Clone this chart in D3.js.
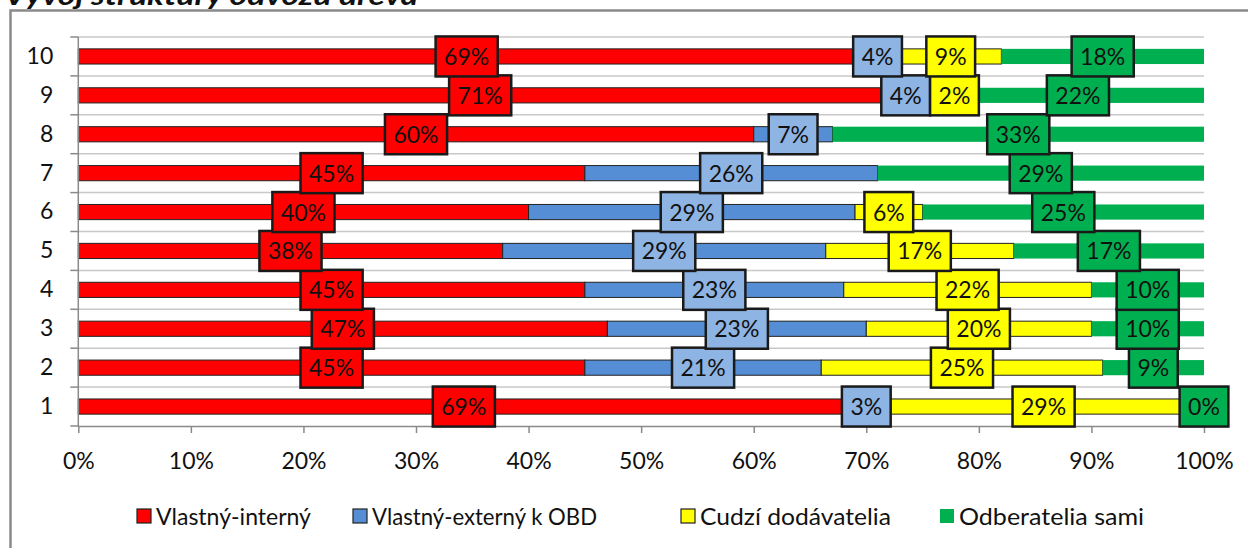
<!DOCTYPE html>
<html>
<head>
<meta charset="utf-8">
<script src="https://cdn.jsdelivr.net/npm/d3@7"></script>
<style>
  html, body { margin: 0; padding: 0; background: #fff; }
  svg { display: block; }
  text { font-family: Lato, "Open Sans", sans-serif; fill: #111; }
</style>
</head>
<body>
<svg id="chart" width="1248" height="548"></svg>
<script>
// ---- data ----
const titleText = "Vývoj štruktúry odvozu dreva";
const categories = ["1", "2", "3", "4", "5", "6", "7", "8", "9", "10"];
const seriesNames = ["Vlastný-interný", "Vlastný-externý k OBD", "Cudzí dodávatelia", "Odberatelia sami"];
const interny  = [68.5, 45, 47, 45, 37.7, 40, 45, 60, 71.4, 69];
const externy  = [3,    21, 23, 23, 28.7, 29, 26, 7,  4.2,  4];
const cudzi    = [28.5, 25, 20, 22, 16.7, 6,  null, null, 2.0, 9];
const odberat  = [0,    9,  10, 10, 16.9, 25, 29, 33, 22.4, 18];
const xTicks = [0, 10, 20, 30, 40, 50, 60, 70, 80, 90, 100];

const seriesValues = [interny, externy, cudzi, odberat];
const barColors   = ["#FF0000", "#558ED5", "#FFFF00", "#00B050"];
const labelColors = ["#FF0000", "#8EB4E3", "#FFFF00", "#00B050"];
const barStroke   = ["#222", "#222", "#222", "none"];

// ---- layout ----
const svg = d3.select("#chart");
const plot = { left: 78.3, right: 1204, top: 37, bottom: 426 };

// frame
svg.append("rect")
  .attr("x", 10.5).attr("y", 10.5)
  .attr("width", 1400).attr("height", 700)
  .attr("fill", "#fff")
  .attr("stroke", "#8a8a8a").attr("stroke-width", 2.5);

// title (cropped at top edge, as in the source picture)
svg.append("text")
  .attr("x", 4).attr("y", 5)
  .attr("font-size", 27).attr("font-weight", "bold").attr("font-style", "italic")
  .attr("textLength", 414).attr("lengthAdjust", "spacingAndGlyphs")
  .text(titleText);

const x = d3.scaleLinear().domain([0, 100]).range([plot.left, plot.right]);
const y = d3.scaleBand()
  .domain(categories.slice().reverse())
  .range([plot.top, plot.bottom])
  .paddingInner(0.61).paddingOuter(0.305);
const step = y.step();

// horizontal gridlines at band boundaries
const gridYs = d3.range(categories.length + 1).map(i => plot.top + i * step);
svg.append("g").selectAll("line").data(gridYs.slice(0, -1)).join("line")
  .attr("x1", plot.left).attr("x2", plot.right)
  .attr("y1", d => d).attr("y2", d => d)
  .attr("stroke", "#c8c8c8").attr("stroke-width", 1.5);

// stacked data
const rows = categories.map((c, i) => {
  let cum = 0;
  return seriesValues.map((arr, s) => {
    const v = arr[i];
    const x0 = cum;
    cum += (v == null ? 0 : v);
    return { s, v, x0, x1: cum, cat: c };
  });
});

// bars
const barG = svg.append("g");
seriesValues.forEach((arr, s) => {
  barG.append("g").selectAll("rect")
    .data(rows.map(r => r[s]).filter(d => d.v != null && d.v > 0))
    .join("rect")
    .attr("x", d => x(d.x0))
    .attr("y", d => y(d.cat))
    .attr("width", d => x(d.x1) - x(d.x0))
    .attr("height", y.bandwidth())
    .attr("fill", barColors[s])
    .attr("stroke", barStroke[s])
    .attr("stroke-width", 1);
});

// y axis
const yAxisG = svg.append("g").attr("transform", `translate(${plot.left},0)`);
yAxisG.call(d3.axisLeft(y).tickSize(0).tickPadding(25));
yAxisG.select(".domain").attr("stroke", "#8a8a8a").attr("stroke-width", 1.5)
  .attr("d", `M0,${plot.top}V${plot.bottom}`);
yAxisG.selectAll("text").attr("font-size", 23).attr("fill", "#111")
  .attr("font-family", "Lato, 'Open Sans', sans-serif");
yAxisG.selectAll("line.tm").data(gridYs).join("line").attr("class", "tm")
  .attr("x1", -8).attr("x2", 0).attr("y1", d => d).attr("y2", d => d)
  .attr("stroke", "#8a8a8a").attr("stroke-width", 1.5);

// x axis
const xAxisG = svg.append("g").attr("transform", `translate(0,${plot.bottom})`);
xAxisG.call(d3.axisBottom(x).tickValues(xTicks).tickFormat(d => d + "%").tickSize(7).tickSizeOuter(0));
xAxisG.select(".domain").attr("stroke", "#8a8a8a").attr("stroke-width", 1.5);
xAxisG.selectAll(".tick line").attr("stroke", "#8a8a8a").attr("stroke-width", 1.5);
xAxisG.selectAll("text").attr("font-size", 23).attr("fill", "#111")
  .attr("font-family", "Lato, 'Open Sans', sans-serif")
  .attr("y", 0).attr("dy", 0).attr("transform", "translate(0,43)");

// data labels (boxes)
const labG = svg.append("g");
const labelH = 40;
const lastRight = categories.map(() => -Infinity);
seriesValues.forEach((arr, s) => {
  rows.forEach((r, i) => {
    const d = r[s];
    if (d.v == null) return;
    const g = labG.append("g");
    const rect = g.append("rect");
    const t = g.append("text")
      .attr("font-size", 23)
      .attr("text-anchor", "middle")
      .attr("fill", "#111")
      .text(Math.round(d.v) + "%");
    const tw = t.node().getComputedTextLength();
    const bw = tw + 17;
    let cx = x((d.x0 + d.x1) / 2);
    let left = cx - bw / 2;
    if (left < lastRight[i]) { left = lastRight[i]; cx = left + bw / 2; }
    lastRight[i] = left + bw;
    const cy = y(d.cat) + y.bandwidth() / 2;
    rect.attr("x", left).attr("y", cy - labelH / 2)
      .attr("width", bw).attr("height", labelH)
      .attr("fill", labelColors[s])
      .attr("stroke", "#1a1a1a").attr("stroke-width", 2.5);
    t.attr("x", cx).attr("y", cy + 8.5);
  });
});

// legend
const legG = svg.append("g");
const legY = 517;
const legendX = [137, 353, 681, 940];
const legendTextW = [155, 225, 191, 185];
const sq = 14, gapSq = 5;
seriesNames.forEach((n, s) => {
  const g = legG.append("g");
  g.append("rect")
    .attr("x", legendX[s]).attr("y", legY - sq / 2 - 1)
    .attr("width", sq).attr("height", sq)
    .attr("fill", barColors[s])
    .attr("stroke", s === 3 ? "none" : "#222").attr("stroke-width", 1.2);
  g.append("text").attr("font-size", 22.5).attr("fill", "#111")
    .attr("x", legendX[s] + sq + gapSq).attr("y", legY + 7.5)
    .attr("textLength", legendTextW[s]).attr("lengthAdjust", "spacingAndGlyphs")
    .text(n);
});
</script>
</body>
</html>
